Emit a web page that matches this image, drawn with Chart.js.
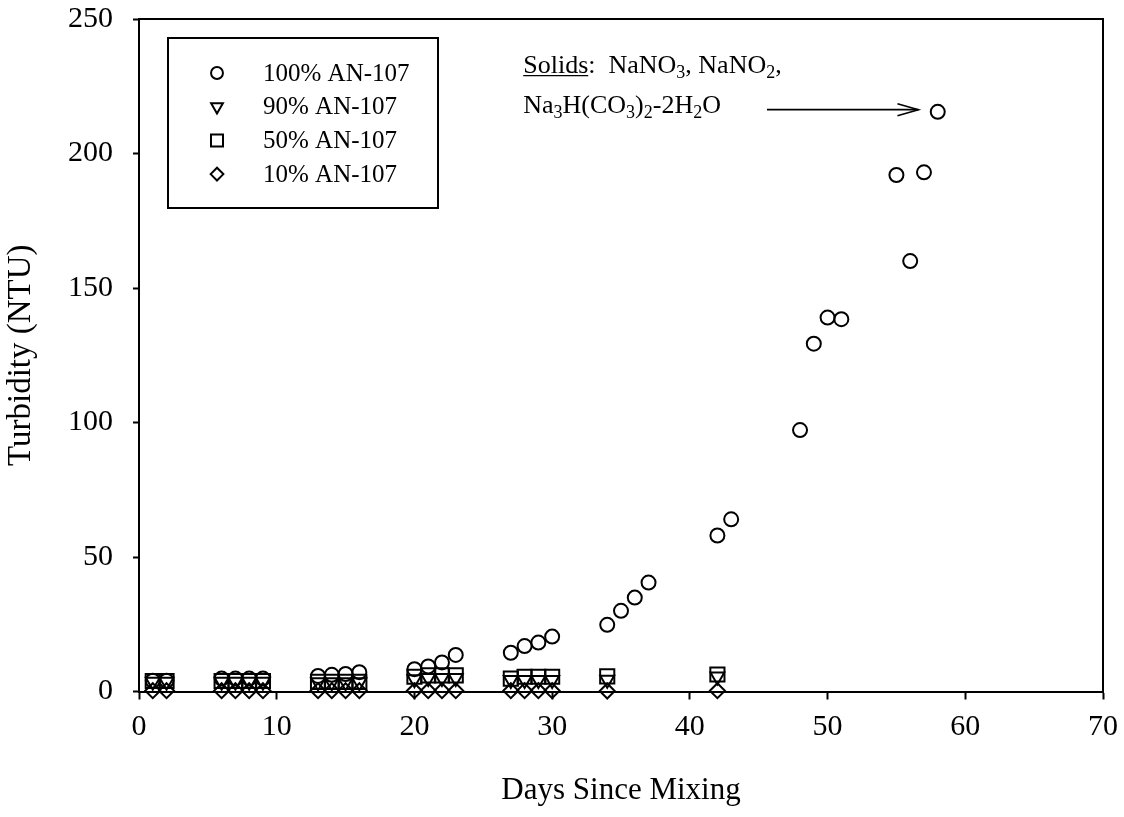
<!DOCTYPE html>
<html><head><meta charset="utf-8">
<script src="https://cdn.jsdelivr.net/npm/chart.js@4/dist/chart.umd.min.js"></script>
<style>html,body{margin:0;padding:0;background:#fff;}</style>
</head><body>
<canvas id="c" width="1124" height="817"></canvas>
<script>
// ---- data ----
const days100 = [1,2,6,7,8,9,13,14,15,16,20,21,22,23,27,28,29,30,34,35,36,37,42,43,48,49,50,51,55,56,57,58];
const turb100 = [4.0,4.0,4.8,4.8,4.8,4.8,5.8,6.2,6.5,7.2,8.3,9.3,10.8,13.6,14.4,16.9,18.2,20.4,24.8,30.0,34.9,40.5,58.0,64.0,97.2,129.3,139.0,138.4,192.0,160.0,193.0,215.5];
const daysLow = [1,2,6,7,8,9,13,14,15,16,20,21,22,23,27,28,29,30,34,42];
const turb90 = [3.6,3.6,3.6,3.6,3.6,3.6,3.4,3.4,3.4,3.4,4.6,5.0,5.0,5.0,4.3,4.3,4.3,4.3,4.4,5.6];
const turb50 = [3.9,3.9,3.9,3.9,3.9,3.9,3.6,3.6,3.6,3.6,5.5,6.0,6.0,6.0,4.8,5.5,5.5,5.5,5.6,6.3];
const turb10 = [0.3,0.3,0.3,0.3,0.3,0.3,0.3,0.3,0.3,0.3,0.3,0.3,0.3,0.3,0.3,0.3,0.3,0.3,0.2,0.3];
const seriesLabels = ['100% AN-107','90% AN-107','50% AN-107','10% AN-107'];
const xTickValues = [0,10,20,30,40,50,60,70];
const yTickValues = [0,50,100,150,200,250];
const xTitle = 'Days Since Mixing';
const yTitle = 'Turbidity (NTU)';
const noteLine1 = [{t:'Solids', u:true},{t:':  NaNO'},{t:'3',s:true},{t:', NaNO'},{t:'2',s:true},{t:','}];
const noteLine2 = [{t:'Na'},{t:'3',s:true},{t:'H(CO'},{t:'3',s:true},{t:')'},{t:'2',s:true},{t:'-2H'},{t:'2',s:true},{t:'O'}];
const noteAnchor = {x:27.9, y:230.1};    // data coords of text start (baseline line 1)
const arrowFrom = {x:45.6, y:216.3};
const arrowTo = {x:56.6, y:216.3};

const FONT = "'Liberation Serif', 'Times New Roman', serif";

function pts(xs, ys){ return xs.map((x,i)=>({x:x, y:ys[i]})); }

const styles = [
  {pointStyle:'circle', pointRadius:7, pointRotation:0},
  {pointStyle:'triangle', pointRadius:8, pointRotation:180},
  {pointStyle:'rect', pointRadius:10, pointRotation:0},
  {pointStyle:'rectRot', pointRadius:7.5, pointRotation:0}
];
const dataArrays = [pts(days100,turb100), pts(daysLow,turb90), pts(daysLow,turb50), pts(daysLow,turb10)];

const datasets = dataArrays.map((d,i)=>Object.assign({
  label: seriesLabels[i],
  data: d,
  showLine:false,
  clip:false,
  borderColor:'#000',
  backgroundColor:'rgba(0,0,0,0)',
  pointBorderColor:'#000',
  pointBackgroundColor:'rgba(0,0,0,0)',
  pointBorderWidth:2,
  pointHoverRadius:7
}, styles[i])).reverse();

const framePlugin = {
  id:'frame',
  afterDraw(chart){
    const {ctx, chartArea:a} = chart;
    ctx.save();
    ctx.strokeStyle='#000'; ctx.lineWidth=2;
    ctx.beginPath();
    ctx.moveTo(a.left, a.top); ctx.lineTo(a.right, a.top); ctx.lineTo(a.right, a.bottom);
    ctx.stroke();
    ctx.restore();
  }
};

function drawMarker(ctx, st, x, y){
  const opts = {pointStyle:st.pointStyle, radius:st.pointRadius, rotation:st.pointRotation, borderWidth:2};
  ctx.strokeStyle='#000'; ctx.fillStyle='rgba(0,0,0,0)'; ctx.lineWidth=2;
  Chart.helpers.drawPoint(ctx, opts, x, y);
}

const legendPlugin = {
  id:'boxLegend',
  afterDraw(chart){
    const {ctx, chartArea:a} = chart;
    const bx = a.left + 29, by = a.top + 19, bw = 270, bh = 170;
    ctx.save();
    ctx.fillStyle='#fff'; ctx.fillRect(bx,by,bw,bh);
    ctx.strokeStyle='#000'; ctx.lineWidth=2; ctx.strokeRect(bx,by,bw,bh);
    ctx.font = '25px ' + FONT; ctx.fillStyle='#000'; ctx.textBaseline='middle'; ctx.textAlign='left';
    seriesLabels.forEach((lab,i)=>{
      const y = by + 35 + i*33.7;
      const st = Object.assign({}, styles[i]);
      st.pointRadius = st.pointRadius*0.85;
      drawMarker(ctx, st, bx + 49, y);
      ctx.fillStyle='#000';
      ctx.fillText(lab, bx + 95, y + 1);
    });
    ctx.restore();
  }
};

function drawRich(ctx, segs, x, y, size){
  let cx = x;
  segs.forEach(s=>{
    if(s.s){
      ctx.font = Math.round(size*0.68)+'px '+FONT;
      ctx.fillText(s.t, cx, y + size*0.22);
    } else {
      ctx.font = size+'px '+FONT;
      ctx.fillText(s.t, cx, y);
    }
    const w = ctx.measureText(s.t).width;
    if(s.u){
      ctx.beginPath(); ctx.lineWidth=1.2; ctx.moveTo(cx, y+3); ctx.lineTo(cx+w, y+3); ctx.stroke();
    }
    cx += w;
  });
}

const notePlugin = {
  id:'note',
  afterDraw(chart){
    const {ctx, scales:{x, y}} = chart;
    ctx.save();
    ctx.fillStyle='#000'; ctx.strokeStyle='#000'; ctx.textBaseline='alphabetic'; ctx.textAlign='left';
    const tx = x.getPixelForValue(noteAnchor.x), ty = y.getPixelForValue(noteAnchor.y);
    drawRich(ctx, noteLine1, tx, ty, 26);
    drawRich(ctx, noteLine2, tx, ty + 40, 26);
    const x0 = x.getPixelForValue(arrowFrom.x), y0 = y.getPixelForValue(arrowFrom.y);
    const x1 = x.getPixelForValue(arrowTo.x), y1 = y.getPixelForValue(arrowTo.y);
    ctx.lineWidth = 1.6;
    ctx.beginPath(); ctx.moveTo(x0,y0); ctx.lineTo(x1,y1); ctx.stroke();
    ctx.beginPath(); ctx.moveTo(x1-21, y1-6); ctx.lineTo(x1,y1); ctx.lineTo(x1-21, y1+6); ctx.stroke();
    ctx.restore();
  }
};

new Chart(document.getElementById('c'), {
  type:'scatter',
  data:{datasets},
  options:{
    responsive:false, animation:false, devicePixelRatio:1,
    layout:{padding:{top:19, right:21, left:0, bottom:0}},
    plugins:{legend:{display:false}, tooltip:{enabled:false}},
    scales:{
      x:{
        type:'linear', min:0, max:70,
        afterBuildTicks(s){ s.ticks = xTickValues.map(v=>({value:v})); },
        afterFit(s){ s.height = 817 - 691.5; s.paddingLeft = 0; s.paddingRight = 0; },
        ticks:{font:{family:FONT, size:30}, color:'#000', padding:10, maxRotation:0},
        grid:{drawOnChartArea:false, drawTicks:true, tickLength:8, color:'#000', tickWidth:2},
        border:{color:'#000', width:2},
        title:{display:true, text:xTitle, font:{family:FONT, size:31}, color:'#000', padding:{top:0,bottom:8}}
      },
      y:{
        type:'linear', min:0, max:250,
        afterBuildTicks(s){ s.ticks = yTickValues.map(v=>({value:v})); },
        afterFit(s){ s.width = 139; s.paddingTop = 0; s.paddingBottom = 0; },
        ticks:{font:{family:FONT, size:30}, color:'#000', padding:20},
        grid:{drawOnChartArea:false, drawTicks:true, tickLength:6, color:'#000', tickWidth:2},
        border:{color:'#000', width:2},
        title:{display:true, text:yTitle, font:{family:FONT, size:33}, color:'#000', padding:{top:2,bottom:4}}
      }
    }
  },
  plugins:[framePlugin, legendPlugin, notePlugin]
});
</script>
</body></html>
